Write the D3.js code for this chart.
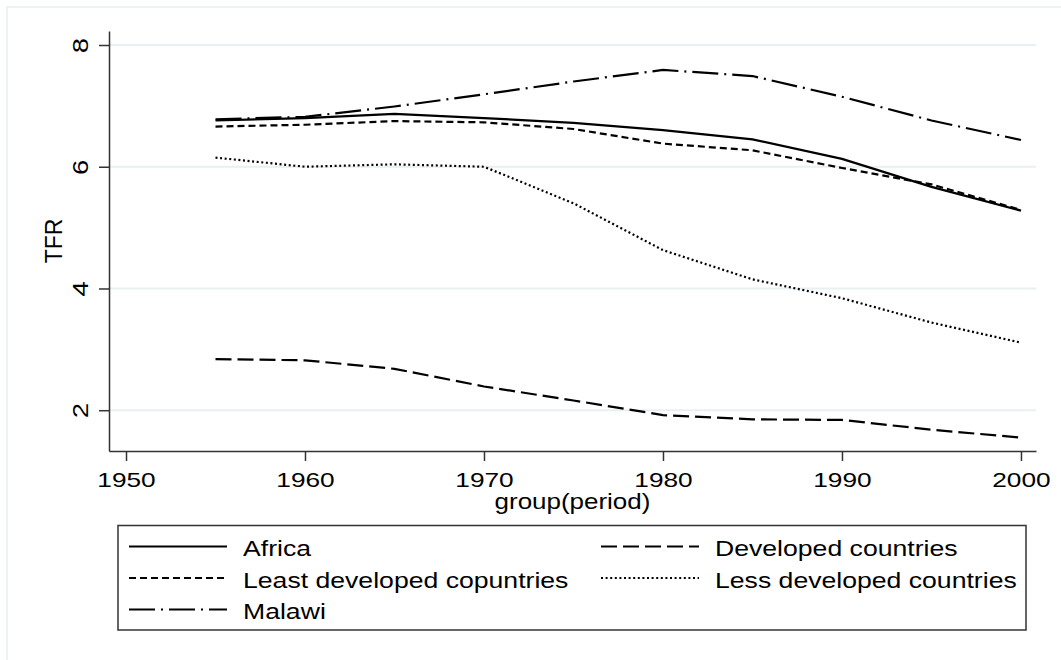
<!DOCTYPE html>
<html>
<head>
<meta charset="utf-8">
<script src="https://cdn.jsdelivr.net/npm/d3@7"></script>
<style>
 body{margin:0;background:#fff;}
 svg{display:block;font-family:"Liberation Sans",Arial,Helvetica,sans-serif;}
</style>
</head>
<body>
<svg id="chart" width="1061" height="660"></svg>
<script>
// ---- data ----
const years=[1955,1960,1965,1970,1975,1980,1985,1990,1995,2000];
const africa=[6.76,6.80,6.87,6.80,6.72,6.60,6.45,6.13,5.67,5.28];
const developed=[2.84,2.82,2.68,2.39,2.16,1.92,1.85,1.84,1.68,1.55];
const leastDeveloped=[6.66,6.69,6.75,6.73,6.62,6.38,6.27,5.98,5.71,5.29];
const lessDeveloped=[6.15,6.00,6.04,6.00,5.40,4.63,4.15,3.84,3.44,3.11];
const malawi=[6.78,6.82,6.99,7.19,7.40,7.59,7.49,7.15,6.76,6.44];
const xTicks=[1950,1960,1970,1980,1990,2000];
const yTicks=[2,4,6,8];
const seriesNames=["Africa","Developed countries","Least developed copuntries","Less developed countries","Malawi"];

// ---- styles ----
const dashes={
 "Africa":null,
 "Developed countries":"16,6",
 "Least developed copuntries":"7,4",
 "Less developed countries":"2,2.6",
 "Malawi":"26,6,2,6"
};
const SX=1.25; // text in the picture is drawn wide

const series=[
 {name:seriesNames[0],values:africa},
 {name:seriesNames[1],values:developed},
 {name:seriesNames[2],values:leastDeveloped},
 {name:seriesNames[3],values:lessDeveloped},
 {name:seriesNames[4],values:malawi}
];

const svg=d3.select("#chart");

// outer frame
svg.append("rect")
 .attr("x",7).attr("y",7).attr("width",1100).attr("height",700)
 .attr("fill","none").attr("stroke","#e6eff1").attr("stroke-width",1.5);

const x=d3.scaleLinear().domain([1949.05,2000.84]).range([109,1036]);
const y=d3.scaleLinear().domain([1.33,8.23]).range([451,31]);

// gridlines
svg.selectAll("line.grid")
 .data(yTicks).enter().append("line")
 .attr("class","grid")
 .attr("x1",109).attr("x2",1036)
 .attr("y1",d=>y(d)).attr("y2",d=>y(d))
 .attr("stroke","#e9f0f3").attr("stroke-width",2);

// series lines
const line=d3.line().x((d,i)=>x(years[i])).y(d=>y(d));
svg.selectAll("path.series")
 .data(series).enter().append("path")
 .attr("class","series")
 .attr("d",d=>line(d.values))
 .attr("fill","none")
 .attr("stroke","#000")
 .attr("stroke-width",2.2)
 .attr("stroke-dasharray",d=>dashes[d.name]);

// axes
const gx=svg.append("g").attr("transform","translate(0,451)")
 .call(d3.axisBottom(x).tickValues(xTicks).tickFormat(d3.format("d")).tickSize(10).tickSizeOuter(0));
const gy=svg.append("g").attr("transform","translate(109,0)")
 .call(d3.axisLeft(y).tickValues(yTicks).tickFormat(d3.format("d")).tickSize(10).tickSizeOuter(0));

[gx,gy].forEach(g=>{
 g.select(".domain").attr("stroke","#333").attr("stroke-width",1.5);
 g.selectAll(".tick line").attr("stroke","#333").attr("stroke-width",1.5);
 g.selectAll(".tick text").attr("fill","#000").attr("font-size",21);
});
gx.selectAll(".tick text")
 .attr("y",null).attr("dy",null)
 .attr("text-anchor","middle")
 .attr("transform",`translate(0,35.7) scale(${SX},1)`);
gy.selectAll(".tick text")
 .attr("x",null).attr("dy",null)
 .attr("text-anchor","middle")
 .attr("font-size",22)
 .attr("transform",`translate(-21,0) rotate(-90) scale(${SX},1)`);

// axis titles
svg.append("text")
 .attr("transform",`translate(${(109+1036)/2},509) scale(1.18,1)`)
 .attr("text-anchor","middle").attr("font-size",22)
 .text("group(period)");
svg.append("text")
 .attr("transform",`translate(62,${(31+451)/2}) rotate(-90)`)
 .attr("text-anchor","middle").attr("font-size",23)
 .text("TFR");

// legend
const legend=svg.append("g");
legend.append("rect")
 .attr("x",118).attr("y",525.5).attr("width",908).attr("height",104.5)
 .attr("fill","#fff").attr("stroke","#333").attr("stroke-width",1.5);

const legendCols=[{lx:129,tx:243},{lx:601,tx:715}];
const item=legend.selectAll("g.item")
 .data(series).enter().append("g")
 .attr("class","item")
 .attr("transform",(d,i)=>`translate(0,${556+Math.floor(i/2)*31.5})`);
item.append("line")
 .attr("x1",(d,i)=>legendCols[i%2].lx)
 .attr("x2",(d,i)=>legendCols[i%2].lx+98)
 .attr("y1",-9.5).attr("y2",-9.5)
 .attr("stroke","#000").attr("stroke-width",2)
 .attr("stroke-dasharray",d=>dashes[d.name]);
item.append("text")
 .attr("transform",(d,i)=>`translate(${legendCols[i%2].tx},0) scale(1.21,1)`)
 .attr("font-size",22)
 .text(d=>d.name);
</script>
</body>
</html>
